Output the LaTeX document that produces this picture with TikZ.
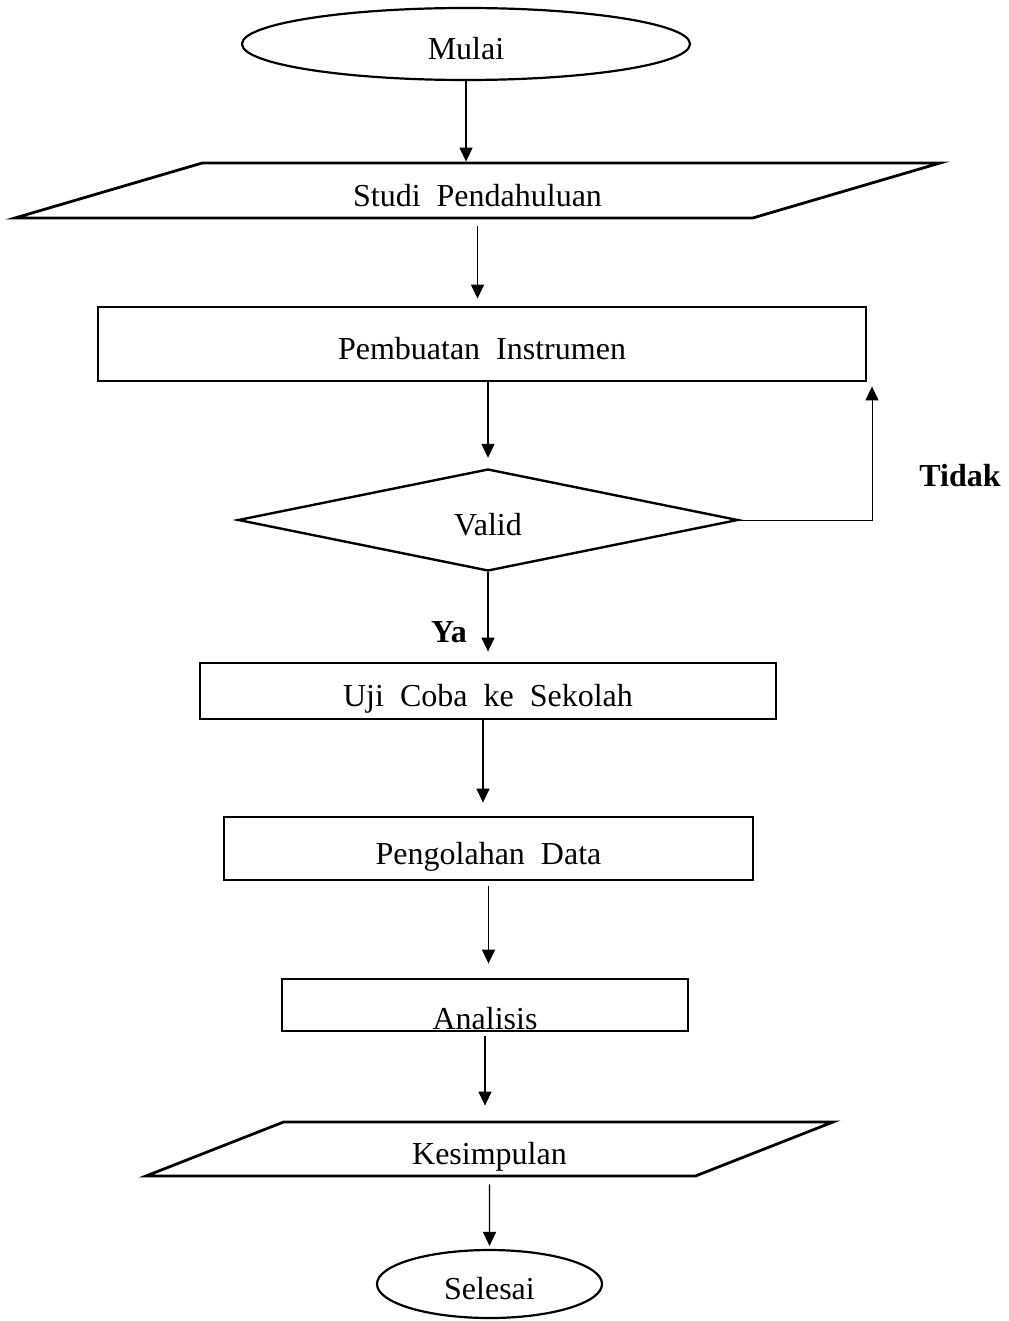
\documentclass[tikz,border=0pt]{standalone}
\usepackage{fontspec}
\setmainfont{Liberation Serif}
\usetikzlibrary{shapes.geometric,arrows.meta}

\begin{document}
\begin{tikzpicture}[x=0.5pt,y=-0.5pt,
  every node/.style={font=\fontsize{16}{19}\selectfont},
  teks/.style={text height=15.5pt,text depth=0pt},
  box/.style={draw,line width=1.4pt,inner sep=0pt,teks},
  bulat/.style={draw,ellipse,line width=1.1pt,inner sep=0pt,teks},
  miring/.style={box,trapezium,trapezium stretches body},
  flow/.style={line width=0.7pt,-{Triangle[length=7pt,width=6.5pt]}}]
\useasboundingbox (0,0) rectangle (1008,1321);
\node[bulat,minimum width=224pt,minimum height=36pt] at (466,44) (mulai) {Mulai};
\node[miring,trapezium left angle=9.4,trapezium right angle=170.6,minimum width=462.5pt,minimum height=27.5pt] at (477.5,190.5) (studi) {Studi~~Pendahuluan};
\node[box,minimum width=384pt,minimum height=37pt] at (482,344) (buat) {Pembuatan~~Instrumen};
\node[box,diamond,line width=1.2pt,minimum width=250pt,minimum height=51pt] at (488,520) (valid) {Valid};
\node[box,minimum width=288pt,minimum height=28pt] at (488,691) (uji) {Uji~~Coba~~ke~~Sekolah};
\node[box,minimum width=264.5pt,minimum height=31.5pt] at (488.5,848.5) (olah) {Pengolahan~~Data};
\node[box,minimum width=203pt,minimum height=26pt,text height=24pt] at (485,1005) (analisis) {Analisis};
\node[miring,trapezium left angle=12.7,trapezium right angle=167.3,minimum width=343.5pt,minimum height=27pt] at (489.5,1149) (simpul) {Kesimpulan};
\node[bulat,minimum width=112.5pt,minimum height=34pt] at (489.5,1284) (selesai) {Selesai};
\node[] at (449,632) (ya) {\bfseries Ya};
\node[] at (960,476) (tidak) {\bfseries Tidak};
\coordinate (belok) at (872,520);
%\draw[help lines] (0,0) grid[step=50] (1008,1321);
\draw[flow] (mulai.south) -- (mulai.south |- studi.north);
\draw[flow] ([yshift=-3.5pt]studi.south) -- ([yshift=3.5pt]studi.south |- buat.north);
\draw[flow] (valid.north |- buat.south) -- ([yshift=5pt]valid.north);
\draw[flow] (valid.south) -- ([yshift=5pt]uji.north);
\draw[flow] ([xshift=-2.5pt]uji.south) -- ([xshift=-2.5pt,yshift=6.5pt]uji.south |- olah.north);
\draw[flow] ([yshift=-2.5pt]olah.south) -- ([yshift=7pt]olah.south |- analisis.north);
\draw[flow] ([yshift=-2pt]analisis.south) -- ([yshift=7.5pt]analisis.south |- simpul.north);
\draw[flow] ([yshift=-3.5pt]simpul.south) -- ([yshift=1.5pt]selesai.north);
\draw[flow,line width=0.5pt] (valid.east) -- (belok) -- ([yshift=-2pt]belok |- buat.south);
\end{tikzpicture}
\end{document}
